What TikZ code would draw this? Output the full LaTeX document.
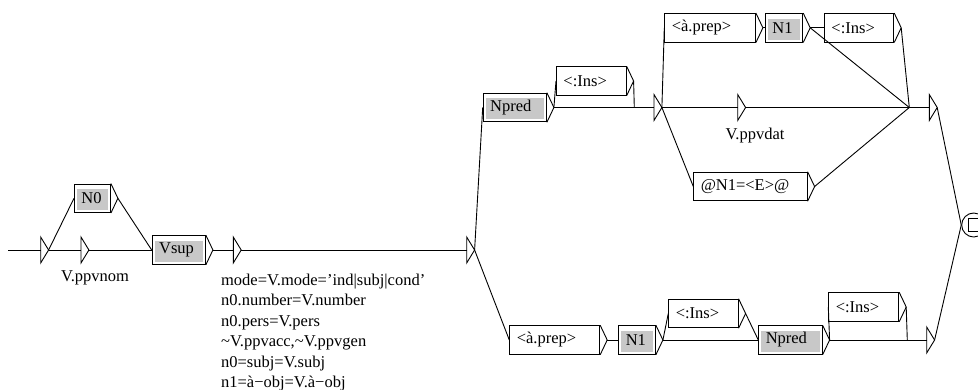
\documentclass[tikz,border=0pt]{standalone}
\usepackage{fontspec}
\setmainfont{Liberation Serif}
\definecolor{boxgray}{RGB}{200,200,200}
\tikzset{grf/.style={x=1pt,y=-1pt,line width=0.9pt,font=\fontsize{16.5}{20.5}\selectfont}}
\tikzset{gbox/.style={draw,fill=white,anchor=west,minimum height=28.6pt,inner xsep=7pt,inner ysep=0pt,align=left},
         ghead/.style={gbox,path picture={\fill[boxgray]
            ([shift={(2.5pt,2.5pt)}]path picture bounding box.south west) rectangle
            ([shift={(-2.5pt,-5pt)}]path picture bounding box.north east);}},
         gstate/.style={anchor=west,inner sep=0pt,minimum width=7pt,minimum height=25pt},
         gout/.style={inner sep=0pt}}

\begin{document}
\begin{tikzpicture}[grf]
    \useasboundingbox (0,0) rectangle (978,389);
    % boxes
    \node[ghead,text width=22pt]   (n0)     at (74,198.3)   {N0};
    \node[ghead,text width=39.3pt] (vsup)   at (151.7,250)  {Vsup};
    \node[ghead,text width=49.3pt] (npredA) at (482.7,107.5) {Npred};
    \node[gbox,text width=55.7pt]  (insA)   at (556,81)     {<:Ins>};
    \node[gbox,text width=76.7pt]  (prepA)  at (664.3,27.8) {<à.prep>};
    \node[ghead,text width=23.3pt] (n1A)    at (765,27.8)   {N1};
    \node[gbox,text width=55.3pt]  (insB)   at (824,27.8)   {<:Ins>};
    \node[gbox,text width=99.4pt]  (eq)     at (693.3,186.5) {@N1=<E>@};
    \node[gbox,text width=76pt]    (prepB)  at (509.3,340)  {<à.prep>};
    \node[ghead,text width=22.7pt] (n1B)    at (618.3,340)  {N1};
    \node[gbox,text width=55.4pt]  (insC)   at (668.3,313.5) {<:Ins>};
    \node[ghead,text width=49.4pt] (npredB) at (758.3,340)  {Npred};
    \node[gbox,text width=56pt]    (insD)   at (828.3,307)  {<:Ins>};
    \foreach \b in {n0,vsup,npredA,insA,prepA,n1A,insB,eq,prepB,n1B,insC,npredB,insD}
      \draw (\b.north east) -- ([xshift=7pt]\b.east) coordinate (\b-tip) -- (\b.south east);
    % empty boxes
    \node[gstate] (s0) at (40.7,250)  {};
    \node[gstate] (s1) at (81,250)    {};
    \node[gstate] (s2) at (233.3,250) {};
    \node[gstate] (s3) at (466.7,250) {};
    \node[gstate] (s4) at (654,107.5) {};
    \node[gstate] (s5) at (737.7,107.5) {};
    \node[gstate] (s6) at (929.3,107.5) {};
    \node[gstate] (s7) at (926.7,340) {};
    \foreach \s in {s0,s1,s2,s3,s4,s5,s6,s7}
      \draw (\s.north west) -- (\s.east) -- (\s.south west) -- cycle;
    \node[draw,circle,minimum size=24pt,inner sep=0pt] (fin) at (973.7,225) {};
    \draw ([shift={(-5.4pt,6.5pt)}]fin.center) rectangle ([shift={(5.6pt,-6.5pt)}]fin.center);
    \coordinate (in) at (8.3,250);
    \coordinate (j1) at (634.3,107.5);
    \coordinate (j2) at (909.3,107.5);
    \coordinate (j3) at (907.3,340);
    % transitions
    \draw (in) -- (s0.west);
    \draw (s0.east) -- (n0.west);
    \draw (s0.east) -- (s1.west);
    \draw (n0-tip) -- (vsup.west);
    \draw (s1.east) -- (vsup.west);
    \draw (vsup-tip) -- (s2.west);
    \draw (s2.east) -- (s3.west);
    \draw (s3.east) -- (npredA.west);
    \draw (s3.east) -- (prepB.west);
    \draw (npredA-tip) -- (insA.west);
    \draw (npredA-tip) -- (s4.west);
    \draw (insA-tip) -- (j1);
    \draw (s4.east) -- (prepA.west);
    \draw (s4.east) -- (s5.west);
    \draw (s4.east) -- (eq.west);
    \draw (prepA-tip) -- (n1A.west);
    \draw (n1A-tip) -- (insB.west);
    \draw (n1A-tip) -- (j2);
    \draw (insB-tip) -- (j2);
    \draw (s5.east) -- (j2);
    \draw (eq-tip) -- (j2);
    \draw (j2) -- (s6.west);
    \draw (s6.east) -- (fin.west);
    \draw (prepB-tip) -- (n1B.west);
    \draw (n1B-tip) -- (insC.west);
    \draw (n1B-tip) -- (npredB.west);
    \draw (insC-tip) -- (npredB.west);
    \draw (npredB-tip) -- (insD.west);
    \draw (npredB-tip) -- (s7.west);
    \draw (insD-tip) -- (j3);
    \draw (s7.east) -- (fin.west);
    % outputs
    \node[gout] (o1) at (95,278) {V.ppvnom};
    \node[gout] (o2) at (755,136) {V.ppvdat};
    \node[gout,anchor=north west,align=left] (o3) at (220.7,273.5) {mode=V.mode='ind\textbar subj\textbar cond'\\
      n0.number=V.number\\
      n0.pers=V.pers\\
      \textasciitilde V.ppvacc,\textasciitilde V.ppvgen\\
      n0=subj=V.subj\\
      n1=à−obj=V.à−obj};
\end{tikzpicture}
\end{document}
